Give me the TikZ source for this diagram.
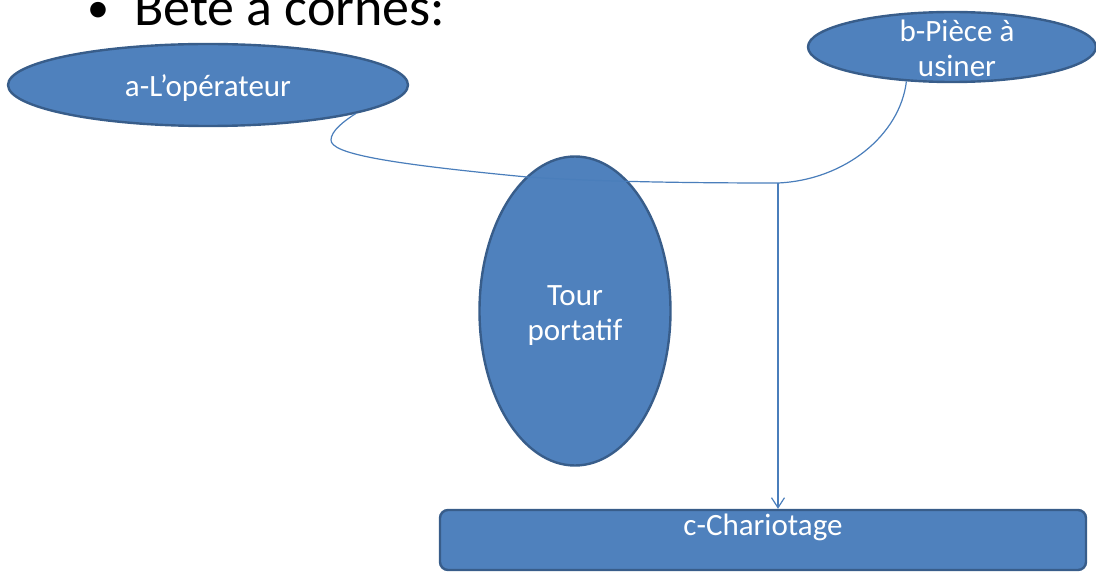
\documentclass[tikz,border=0pt]{standalone}
\usepackage{fontspec}
\setmainfont{Carlito}
\usetikzlibrary{shapes.geometric,arrows.meta}
\definecolor{shapefill}{HTML}{4F81BD}
\definecolor{shapeline}{HTML}{385D8A}
\definecolor{linkline}{HTML}{4A7EBB}
\begin{document}
\begin{tikzpicture}[x=1pt,y=-1pt,
  bubble/.style={ellipse,draw=shapeline,fill=shapefill,line width=2.4pt,inner sep=0pt},
  panel/.style={rectangle,rounded corners=8pt,draw=shapeline,fill=shapefill,
    line width=2.4pt,inner sep=0pt},
  caption/.style={inner sep=0pt,text=white,align=center,font=\fontsize{31}{35}\selectfont},
  link/.style={draw=linkline,line width=1.2pt},
  headline/.style={anchor=base west,inner sep=0pt,font=\fontsize{54}{60}\selectfont}]
\useasboundingbox (0,0) rectangle (1096,572);

% heading
\node[headline,font=\fontsize{44}{50}\selectfont] (bullet) at (87,23) {•};
\node[headline] (title) at (134,26) {Bête à cornes:};

% functions and product
\node[bubble,minimum width=400pt,minimum height=82pt] (a) at (208,85) {};
\node[caption] (atext) at ([yshift=-3pt]a.center) {a-L’opérateur};
\node[bubble,minimum width=288pt,minimum height=70pt] (b) at (952,47) {};
\node[caption] (btext) at ([xshift=5pt,yshift=-1pt]b.center) {b-Pièce à\\usiner};
\node[bubble,minimum width=191pt,minimum height=309pt] (t) at (575,311) {};
\node[caption] (ttext) at ([yshift=-5pt]t.center) {Tour\\portatif};
\node[panel,minimum width=646pt,minimum height=60pt] (c) at (763,540) {};
\node[caption,anchor=north] (ctext) at ([yshift=-5pt]c.north) {c-Chariotage};

% horn linking a and b, and the goal arrow
\coordinate (j) at (778,183);
\draw[link] (a.-11) .. controls (344,121) and (331,131) .. (331,140)
  .. controls (331,153) and (380,163) .. (527,177)
  .. controls (600,182) and (700,183) .. (j)
  .. controls (845,180) and (900,135) .. (b.217);
\draw[link,-{Straight Barb[length=10pt,width=13pt]}] (j) -- (j |- c.north);
\end{tikzpicture}
\end{document}
